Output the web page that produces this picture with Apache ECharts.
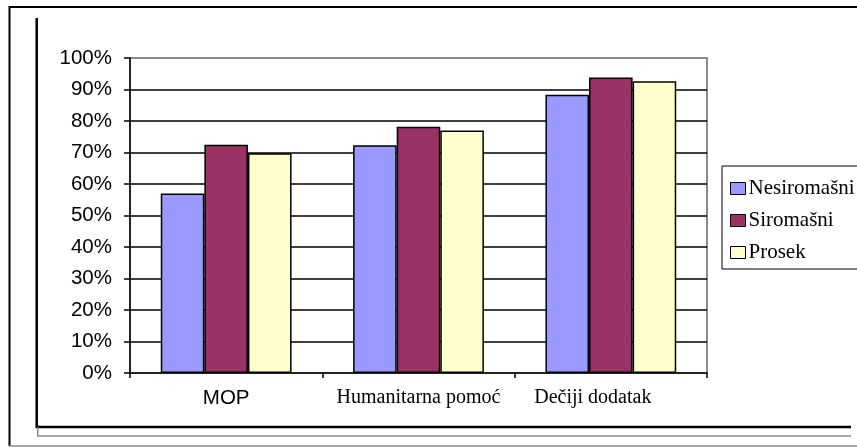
<!DOCTYPE html>
<html><head><meta charset="utf-8">
<script src="https://cdn.jsdelivr.net/npm/echarts@6/dist/echarts.min.js"></script>
<style>html,body{margin:0;padding:0;background:#fff}#c{width:857px;height:447px}</style>
</head><body><div id="c"></div>
<script>
const categories = ['MOP', 'Humanitarna pomoć', 'Dečiji dodatak'];
const seriesNames = ['Nesiromašni', 'Siromašni', 'Prosek'];
const nesiromasni = [57, 72.3, 88.3];
const siromasni = [72.5, 78.2, 93.8];
const prosek = [69.8, 77, 92.6];
const colors = ['#9999FF', '#993366', '#FFFFCC'];

const chart = echarts.init(document.getElementById('c'), null, {renderer: 'canvas'});
const values = [nesiromasni, siromasni, prosek];
const serif = 'Liberation Serif, Times New Roman, serif';
const sans = 'Liberation Sans, Arial, sans-serif';
const catData = categories.map((c, i) => ({
  value: c,
  textStyle: i === 0
    ? {fontFamily: sans, fontSize: 20.5, color: '#000'}
    : {fontFamily: serif, fontSize: 20, color: '#000', padding: i === 2 ? [0, 36, 0, 0] : 0}
}));
chart.setOption({
  animation: false,
  backgroundColor: '#fff',
  grid: {left: 130, right: 150, top: 58, bottom: 74, show: true, borderColor: '#8a8a8a', borderWidth: 2, backgroundColor: 'transparent'},
  legend: {
    orient: 'vertical', left: 722, top: 166,
    data: seriesNames,
    icon: 'rect', itemWidth: 15, itemHeight: 12, itemGap: 11,
    padding: [12, 60, 6, 8],
    borderColor: '#000', borderWidth: 1, backgroundColor: '#fff',
    textStyle: {fontFamily: serif, fontSize: 21, color: '#000', padding: [0, 0, 0, -2]},
    itemStyle: {borderColor: '#000', borderWidth: 1}
  },
  xAxis: {
    type: 'category', data: catData,
    axisLine: {lineStyle: {color: '#222', width: 2}},
    axisTick: {show: true, length: 5, lineStyle: {color: '#000', width: 1.5}},
    axisLabel: {interval: 0, margin: 15, fontFamily: serif, fontSize: 20, color: '#000'}
  },
  yAxis: {
    type: 'value', min: 0, max: 100, interval: 10,
    axisLine: {show: true, lineStyle: {color: '#000', width: 1.5}},
    axisTick: {show: true, length: 6, lineStyle: {color: '#000', width: 1.5}},
    axisLabel: {margin: 18, fontFamily: sans, fontSize: 20.5, color: '#000', formatter: v => v + '%'},
    splitLine: {show: true, showMaxLine: false, showMinLine: false, lineStyle: {color: '#000', width: 1.5}}
  },
  series: seriesNames.map((n, i) => ({
    name: n, type: 'bar', data: values[i],
    barGap: '0%', barCategoryGap: '32%',
    itemStyle: {color: colors[i], borderColor: '#000', borderWidth: 1.5}
  })),
  graphic: [
    {type: 'polyline', shape: {points: [[9.5, 446], [9.5, 7], [860, 7]]}, style: {stroke: '#000', lineWidth: 2, fill: null}},
    {type: 'line', shape: {x1: 9, y1: 446, x2: 860, y2: 446}, style: {stroke: '#8a8a8a', lineWidth: 1.5}},
    {type: 'polyline', shape: {points: [[36.7, 18], [36.7, 427], [851, 427]]}, style: {stroke: '#000', lineWidth: 2.5, fill: null}},
    {type: 'polyline', shape: {points: [[37.7, 427], [37.7, 436], [851, 436]]}, style: {stroke: '#8a8a8a', lineWidth: 1.5, fill: null}}
  ]
});
</script></body></html>
